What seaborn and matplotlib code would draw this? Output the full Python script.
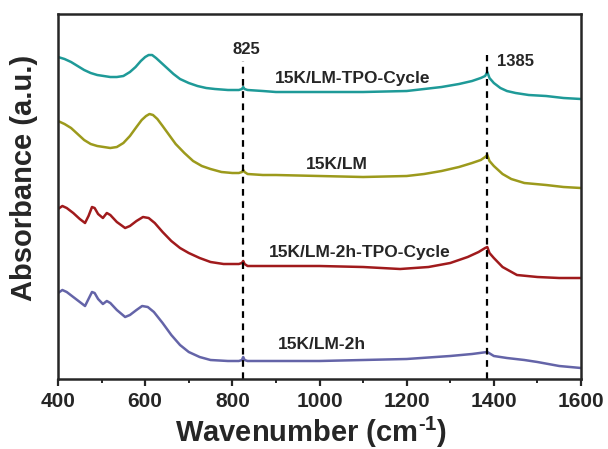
import pandas as pd
import numpy as np
import seaborn as sns
import matplotlib.pyplot as plt
from matplotlib.ticker import MultipleLocator

# spectra (offset units, stacked)
wn_tpo = [400, 415, 430, 445, 460, 475, 490, 505, 520, 535, 550, 565, 578, 590, 600, 608, 616,
          625, 635, 650, 665, 680, 700, 720, 740, 760, 790, 815, 822, 825, 828, 835, 870, 900,
          1000, 1100, 1200, 1240, 1280, 1320, 1350, 1370, 1380, 1385, 1390, 1400, 1415, 1430,
          1450, 1480, 1520, 1560, 1600]
ab_tpo = [322, 320, 317, 313, 309, 306, 304, 303, 302, 302, 303, 307, 312, 318, 322, 324, 324,
          321, 317, 311, 305, 300, 296, 293, 291, 290, 289, 289, 290, 292, 290, 289, 288, 287,
          287, 287, 288, 290, 292, 295, 298, 301, 303, 307, 301, 296, 291, 288,
          286, 284, 283, 281, 280]

wn_lm = [400, 415, 430, 445, 460, 475, 490, 505, 520, 535, 550, 565, 580, 592, 602, 610, 618,
         628, 640, 655, 670, 690, 710, 730, 750, 775, 800, 815, 822, 825, 828, 835, 870, 900,
         1000, 1100, 1200, 1240, 1280, 1320, 1350, 1370, 1380, 1385, 1390, 1400, 1420, 1440,
         1470, 1520, 1560, 1600]
ab_lm = [258, 255, 251, 245, 239, 235, 233, 232, 231, 232, 236, 243, 252, 259, 263, 265, 264,
         260, 253, 244, 235, 226, 218, 213, 210, 207, 206, 206, 207, 209, 207, 205, 204, 204,
         203, 202, 203, 205, 208, 212, 216, 219, 222, 224, 218, 213, 205, 200,
         196, 194, 192, 191]

wn_2h_tpo = [400, 410, 420, 435, 450, 462, 470, 478, 484, 492, 503, 512, 520, 535, 554, 565,
             580, 595, 608, 622, 640, 660, 680, 700, 725, 750, 780, 815, 822, 825, 828, 835,
             900, 1000, 1100, 1185, 1250, 1300, 1340, 1365, 1380, 1385, 1390, 1400, 1420,
             1453, 1500, 1550, 1600]
ab_2h_tpo = [170, 173, 171, 166, 160, 156, 163, 172, 171, 165, 161, 166, 164, 157, 151, 153,
             158, 162, 161, 156, 147, 138, 131, 126, 121, 117, 115, 115, 116, 118, 115, 113,
             113, 113, 112, 110, 112, 116, 122, 127, 131, 132, 126, 121, 112,
             104, 102, 101, 101]

wn_2h = [400, 410, 420, 435, 450, 462, 470, 478, 484, 492, 503, 512, 520, 535, 554, 565,
         580, 593, 606, 620, 640, 660, 680, 700, 725, 750, 790, 815, 822, 825, 828, 835,
         900, 1000, 1100, 1200, 1300, 1350, 1385, 1400, 1430, 1470, 1500, 1550, 1600]
ab_2h = [86, 89, 87, 82, 77, 73, 80, 87, 86, 80, 75, 78, 76, 69, 62, 64,
         69, 73, 72, 67, 56, 44, 34, 27, 22, 19, 18, 18, 19, 22, 19, 18,
         18, 18, 19, 20, 23, 25, 27, 23, 21, 19, 17, 13, 11]

names = ["15K/LM-TPO-Cycle", "15K/LM", "15K/LM-2h-TPO-Cycle", "15K/LM-2h"]
colors = ["#1e9a98", "#9c9a1c", "#a01a1c", "#6464a8"]

df = pd.concat([
    pd.DataFrame({"wn": wn_tpo, "ab": ab_tpo, "sample": names[0]}),
    pd.DataFrame({"wn": wn_lm, "ab": ab_lm, "sample": names[1]}),
    pd.DataFrame({"wn": wn_2h_tpo, "ab": ab_2h_tpo, "sample": names[2]}),
    pd.DataFrame({"wn": wn_2h, "ab": ab_2h, "sample": names[3]}),
])

sns.set_style("ticks")
plt.rcParams['font.family'] = ['Liberation Sans', 'DejaVu Sans']
plt.rcParams['font.weight'] = 'bold'
plt.rcParams['mathtext.fontset'] = 'custom'
plt.rcParams['mathtext.rm'] = 'Liberation Sans:bold'
plt.rcParams['mathtext.bf'] = 'Liberation Sans:bold'

fig = plt.figure(figsize=(6.08, 4.49), dpi=100)
ax = fig.add_axes([0.0954, 0.1559, 0.8602, 0.8129])

sns.lineplot(data=df, x="wn", y="ab", hue="sample", palette=dict(zip(names, colors)),
             estimator=None, sort=True, lw=1.8, legend=False, ax=ax)

ax.vlines([825], 0, 318, colors="black", linestyles=(0, (3, 2.5)), lw=1.6)
ax.vlines([1385], 0, 324, colors="black", linestyles=(0, (3, 2.5)), lw=1.6)
ax.text(833, 322, "825", ha="center", va="bottom", fontsize=12, fontweight="bold")
ax.text(1408, 318, "1385", ha="left", va="center", fontsize=12, fontweight="bold")

label_pos = [(1075, 301), (1040, 215), (1093, 127), (1006, 35)]
for name, (lx, ly) in zip(names, label_pos):
    ax.text(lx, ly, name, ha="center", va="center", fontsize=12.5, fontweight="bold")

ax.set_xlim(400, 1600)
ax.set_ylim(0, 365)
ax.xaxis.set_major_locator(MultipleLocator(200))
ax.xaxis.set_minor_locator(MultipleLocator(100))
ax.tick_params(axis="x", which="major", direction="out", length=5, width=1.6, labelsize=15, pad=4)
ax.tick_params(axis="x", which="minor", direction="out", length=3, width=1.4)
ax.set_yticks([])
for lbl in ax.get_xticklabels():
    lbl.set_fontweight("bold")
for sp in ax.spines.values():
    sp.set_linewidth(1.8)
    sp.set_visible(True)

ax.set_xlabel("Wavenumber (cm$^{\\mathrm{\u2010}1}$)", fontsize=21, fontweight="bold")
ax.set_ylabel("Absorbance (a.u.)", fontsize=21, fontweight="bold")
ax.xaxis.set_label_coords(0.484, -0.098)
ax.yaxis.set_label_coords(-0.038, 0.55)

fig.savefig("out.png", dpi=100)
